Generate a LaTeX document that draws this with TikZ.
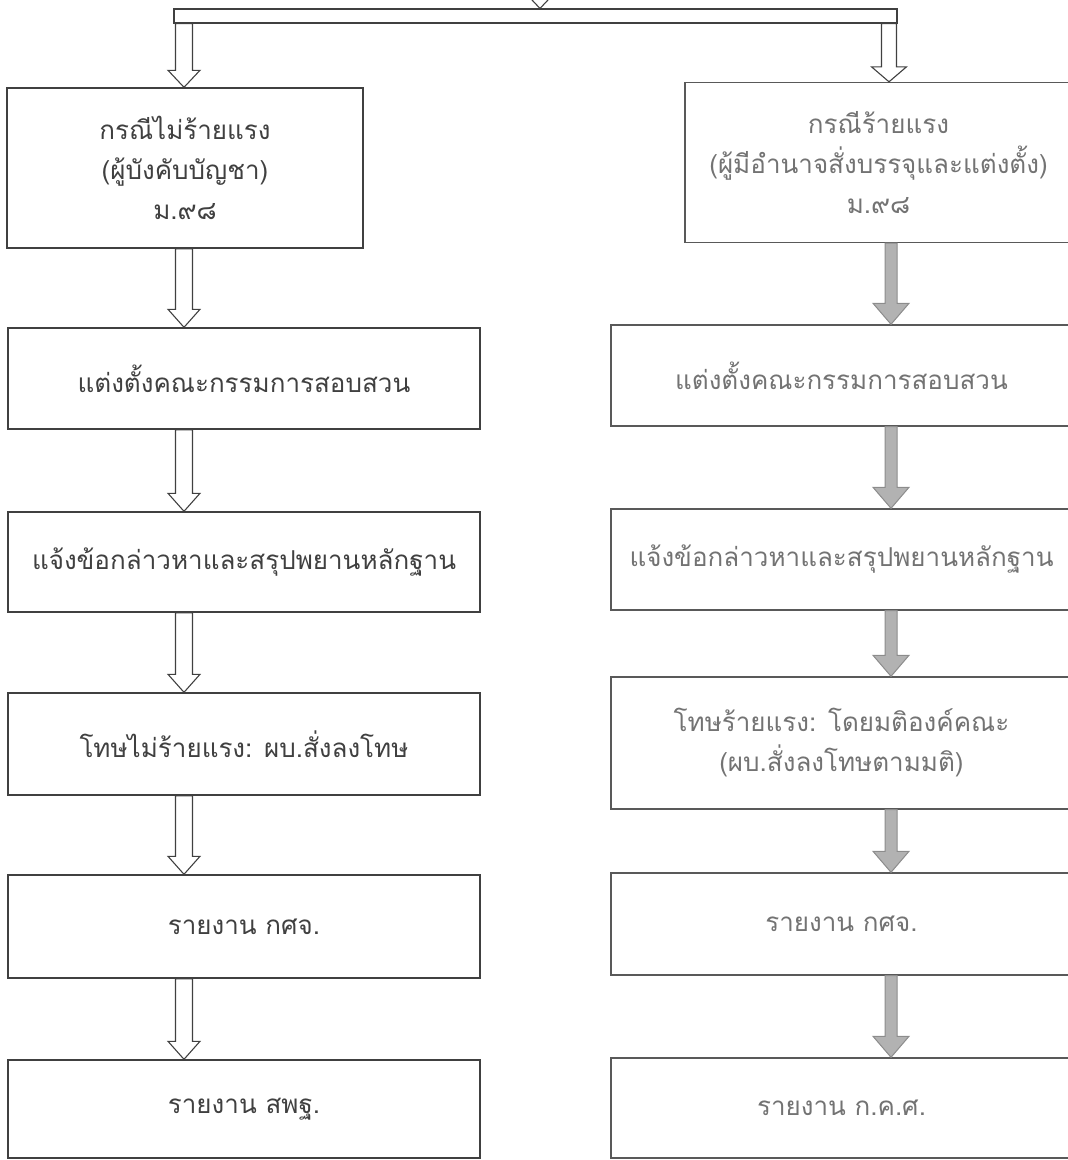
\documentclass[tikz,border=0pt]{standalone}
\usepackage{fontspec}
\newfontfamily\thaifont[Script=Thai]{Loma}
\usetikzlibrary{calc}
\newcommand{\blockarrow}[7]{\draw[#1] let \p1=(#3.south -| #2), \p2=(#4.north -| #2) in (\x1-#5,\y1) -- (\x1-#5,\y2+#7) -- (\x1-#6,\y2+#7) -- (\x2,\y2) -- (\x1+#6,\y2+#7) -- (\x1+#5,\y2+#7) -- (\x1+#5,\y1) -- cycle;}

\begin{document}
\begin{tikzpicture}[
  x=1pt, y=1pt,
  box_frame/.style={rectangle, draw=black!75, line width=1.4pt, inner sep=0pt, align=center, font=\thaifont\fontsize{26}{40}\selectfont},
  left_box/.style={box_frame, text=black!75},
  right_box/.style={box_frame, draw=black!65, text=black!55},
  hollow_arrow/.style={draw=black!75, line width=1.1pt, line join=miter},
  gray_arrow/.style={draw=black!45, line width=1pt, fill=black!30, line join=miter},
]
\useasboundingbox (0,0) rectangle (1068,-1160);
\coordinate (colL) at (184,0);
\coordinate (colR) at (891,0);
\coordinate (colT) at (889,0);
\draw (540,40) node (src) [inner sep=0pt] {};
\draw (535.5,-16) node (bar) [hollow_arrow, inner sep=0pt, minimum width=723pt, minimum height=14pt] {};
\draw (185,-168) node (l1) [left_box, minimum width=356pt, minimum height=160pt] {กรณีไม่ร้ายแรง\\(ผู้บังคับบัญชา)\\ม.๙๘};
\draw (244,-378.5) node (l2) [left_box, minimum width=472pt, minimum height=101pt] {แต่งตั้งคณะกรรมการสอบสวน};
\draw (244,-562) node (l3) [left_box, minimum width=472pt, minimum height=100pt] {แจ้งข้อกล่าวหาและสรุปพยานหลักฐาน};
\draw (244,-744) node (l4) [left_box, minimum width=472pt, minimum height=102pt] {โทษไม่ร้ายแรง: ผบ.สั่งลงโทษ};
\draw (244,-926.5) node (l5) [left_box, minimum width=472pt, minimum height=103pt] {รายงาน กศจ.};
\draw (244,-1109) node (l6) [left_box, minimum width=472pt, minimum height=98pt] {รายงาน สพฐ.};
\draw (878.5,-162.5) node (r1) [right_box, minimum width=387pt, minimum height=160pt] {กรณีร้ายแรง\\(ผู้มีอำนาจสั่งบรรจุและแต่งตั้ง)\\ม.๙๘};
\draw (841.5,-375.5) node (r2) [right_box, minimum width=461pt, minimum height=101pt] {แต่งตั้งคณะกรรมการสอบสวน};
\draw (841.5,-559.5) node (r3) [right_box, minimum width=461pt, minimum height=101pt] {แจ้งข้อกล่าวหาและสรุปพยานหลักฐาน};
\draw (841.5,-743) node (r4) [right_box, minimum width=461pt, minimum height=132pt] {โทษร้ายแรง: โดยมติองค์คณะ\\(ผบ.สั่งลงโทษตามมติ)};
\draw (841.5,-924) node (r5) [right_box, minimum width=461pt, minimum height=102pt] {รายงาน กศจ.};
\draw (841.5,-1108) node (r6) [right_box, minimum width=461pt, minimum height=100pt] {รายงาน ก.ค.ศ.};
\blockarrow{hollow_arrow}{src}{src}{bar}{8pt}{16pt}{17pt}
\blockarrow{hollow_arrow}{colL}{bar}{l1}{8.5pt}{16pt}{17pt}
\blockarrow{hollow_arrow}{colT}{bar}{r1}{7.5pt}{17.5pt}{15pt}
\blockarrow{hollow_arrow}{colL}{l1}{l2}{8.5pt}{16pt}{18pt}
\blockarrow{hollow_arrow}{colL}{l2}{l3}{8.5pt}{16pt}{18pt}
\blockarrow{hollow_arrow}{colL}{l3}{l4}{8.5pt}{16pt}{18pt}
\blockarrow{hollow_arrow}{colL}{l4}{l5}{8.5pt}{16pt}{18pt}
\blockarrow{hollow_arrow}{colL}{l5}{l6}{8.5pt}{16pt}{18pt}
\blockarrow{gray_arrow}{colR}{r1}{r2}{6pt}{18pt}{21pt}
\blockarrow{gray_arrow}{colR}{r2}{r3}{6pt}{18pt}{21pt}
\blockarrow{gray_arrow}{colR}{r3}{r4}{6pt}{18pt}{21pt}
\blockarrow{gray_arrow}{colR}{r4}{r5}{6pt}{18pt}{21pt}
\blockarrow{gray_arrow}{colR}{r5}{r6}{6pt}{18pt}{21pt}
\end{tikzpicture}
\end{document}
